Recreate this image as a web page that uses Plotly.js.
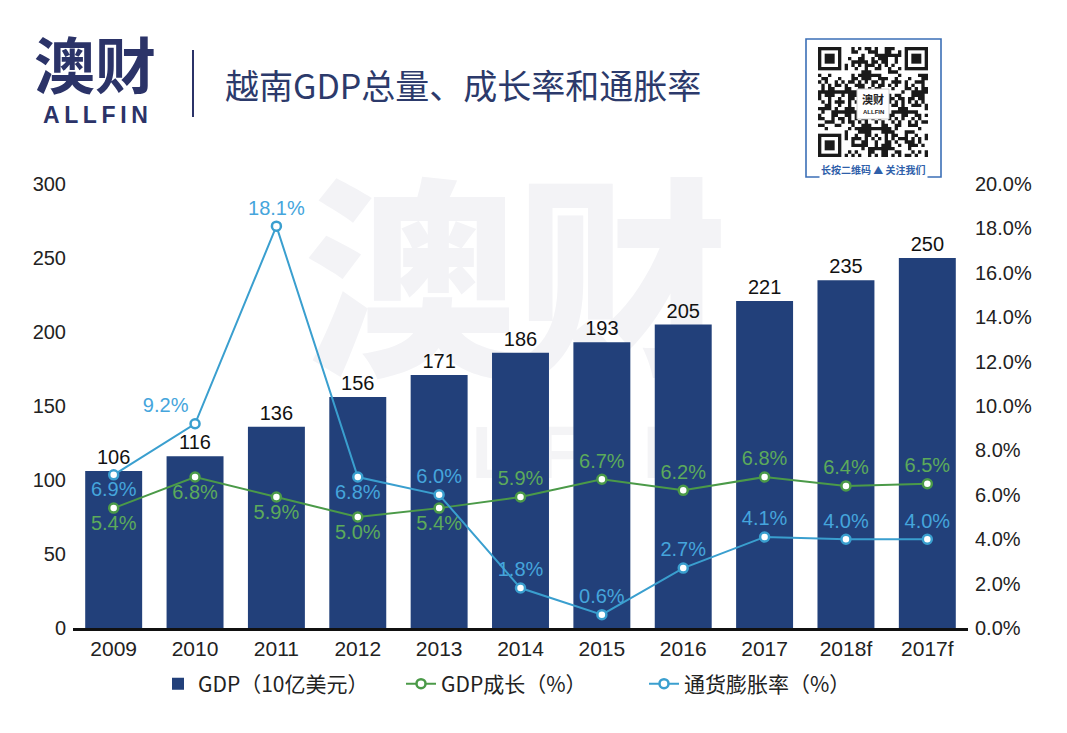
<!DOCTYPE html>
<html>
<head>
<meta charset="utf-8">
<script src="https://cdn.plot.ly/plotly-3.0.1.min.js"></script>
<style>
  html, body { margin: 0; padding: 0; background: #ffffff; }
  #chart { width: 1067px; height: 733px; }
</style>
</head>
<body>
<div id="chart"></div>
<script>
// ---------------- DATA ----------------
const categories = ['2009', '2010', '2011', '2012', '2013', '2014', '2015', '2016', '2017', '2018f', '2017f'];
const gdpValues = [106, 116, 136, 156, 171, 186, 193, 205, 221, 235, 250];          // GDP, 10亿美元
const gdpGrowth = [5.4, 6.8, 5.9, 5.0, 5.4, 5.9, 6.7, 6.2, 6.8, 6.4, 6.5];          // %
const inflation = [6.9, 9.2, 18.1, 6.8, 6.0, 1.8, 0.6, 2.7, 4.1, 4.0, 4.0];         // %
const leftTicks = [0, 50, 100, 150, 200, 250, 300];
const rightTicks = [0, 2, 4, 6, 8, 10, 12, 14, 16, 18, 20];
const rightTickText = ['0.0%', '2.0%', '4.0%', '6.0%', '8.0%', '10.0%', '12.0%', '14.0%', '16.0%', '18.0%', '20.0%'];
const seriesNames = ['GDP（10亿美元）', 'GDP成长（%）', '通货膨胀率（%）'];
const titleText = '越南GDP总量、成长率和通胀率';

// ---------------- LAYOUT HELPERS ----------------
const W = 1067, H = 733, L = 73, R = 99, T = 184, B = 105;
const PW = W - L - R, PH = H - T - B;
const px = x => (x - L) / PW;
const py = y => (H - B - y) / PH;

const NAVY = '#22407a';
const LOGO = '#2b3368';
const GREEN_LINE = '#4b9a48';
const GREEN_TEXT = '#5caa5a';
const BLUE_LINE = '#3a9fcf';
const BLUE_TEXT = '#45a5dc';
const NUMFONT = 'Liberation Sans, Arial, Noto Sans CJK SC, sans-serif';
const CJKFONT = 'Noto Sans CJK SC, sans-serif';

const growthPos = ['bottom center', 'bottom center', 'bottom center', 'bottom center', 'bottom center',
                   'top center', 'top center', 'top center', 'top center', 'top center', 'top center'];
const inflPos = ['bottom center', 'top left', 'top center', 'bottom center', 'top center',
                 'top center', 'top center', 'top center', 'top center', 'top center', 'top center'];

const traces = [
  {
    type: 'bar', name: seriesNames[0], x: categories, y: gdpValues,
    marker: { color: NAVY },
    texttemplate: '%{y}', textposition: 'outside',
    textfont: { family: NUMFONT, size: 20, color: '#111' },
    cliponaxis: false, hoverinfo: 'x+y'
  },
  {
    type: 'scatter', mode: 'lines+markers+text', name: seriesNames[1], x: categories, y: gdpGrowth,
    yaxis: 'y2',
    line: { color: GREEN_LINE, width: 2 },
    marker: { symbol: 'circle', size: 9, color: '#ffffff', line: { color: GREEN_LINE, width: 2.5 } },
    texttemplate: '%{y:.1f}%', textposition: growthPos,
    textfont: { family: NUMFONT, size: 20, color: GREEN_TEXT },
    cliponaxis: false
  },
  {
    type: 'scatter', mode: 'lines+markers+text', name: seriesNames[2], x: categories, y: inflation,
    yaxis: 'y2',
    line: { color: BLUE_LINE, width: 2 },
    marker: { symbol: 'circle', size: 9, color: '#ffffff', line: { color: BLUE_LINE, width: 2.5 } },
    texttemplate: '%{y:.1f}%', textposition: inflPos,
    textfont: { family: NUMFONT, size: 20, color: BLUE_TEXT },
    cliponaxis: false
  }
];

// ---------------- DECORATION (header, QR badge, watermark) ----------------
const shapes = [];
const annotations = [];

// watermark behind the bars
shapes.push({
  type: 'rect', xref: 'paper', yref: 'paper', layer: 'below',
  x0: px(300), x1: px(732), y0: py(415), y1: py(185),
  line: { width: 0 }, fillcolor: 'rgba(0,0,0,0)',
  label: { text: '澳财', textposition: 'middle center',
           font: { family: CJKFONT, size: 212, color: '#f3f3f6', weight: 900 } }
});
shapes.push({
  type: 'rect', xref: 'paper', yref: 'paper', layer: 'below',
  x0: px(300), x1: px(732), y0: py(485), y1: py(405),
  line: { width: 0 }, fillcolor: 'rgba(0,0,0,0)',
  label: { text: 'A L L F I N', textposition: 'middle center',
           font: { family: NUMFONT, size: 74, color: '#f4f4f6', weight: 700 } }
});

// header divider
shapes.push({ type: 'line', xref: 'paper', yref: 'paper',
  x0: px(193), x1: px(193), y0: py(50), y1: py(117), line: { color: LOGO, width: 2 } });

// logo
annotations.push({ xref: 'paper', yref: 'paper', x: px(95), y: py(68), xanchor: 'center', yanchor: 'middle',
  text: '<b>澳财</b>', showarrow: false, font: { family: 'Liberation Sans, Noto Sans CJK SC, sans-serif', size: 61, color: LOGO } });
annotations.push({ xref: 'paper', yref: 'paper', x: px(95), y: py(115.5), xanchor: 'center', yanchor: 'middle',
  text: '<b>A\u2009L\u2009L\u2009F\u2009I\u2009N</b>', showarrow: false, font: { family: NUMFONT, size: 23, color: LOGO } });

// title
annotations.push({ xref: 'paper', yref: 'paper', x: px(223), y: py(84), xanchor: 'left', yanchor: 'middle',
  text: titleText, showarrow: false, font: { family: CJKFONT, size: 34, color: '#2c3a6b' } });

// QR badge frame
shapes.push({ type: 'rect', xref: 'paper', yref: 'paper',
  x0: px(806), x1: px(941), y0: py(177), y1: py(39),
  line: { color: '#3b6fb6', width: 1.6 }, fillcolor: 'rgba(0,0,0,0)' });
// QR-like module texture (decorative only)
(function () {
  const N = 33, x0 = 818, y0 = 47, s = 110 / N;
  let d = '';
  const inFinder = (i, j) => (i < 8 && j < 8) || (i < 8 && j >= N - 8) || (i >= N - 8 && j < 8);
  for (let i = 0; i < N; i++) {
    for (let j = 0; j < N; j++) {
      if (inFinder(i, j)) continue;
      const on = ((i * 7 + j * 13 + (i * j) % 11) % 5) < 2 || ((i + 2 * j) % 7 === 0);
      if (!on) continue;
      const a = px(x0 + j * s), b = px(x0 + (j + 1) * s);
      const c = py(y0 + i * s), e = py(y0 + (i + 1) * s);
      d += `M${a},${c}L${b},${c}L${b},${e}L${a},${e}Z`;
    }
  }
  shapes.push({ type: 'path', xref: 'paper', yref: 'paper', path: d, fillcolor: '#1a1a1a', line: { width: 0 } });
  const finders = [[0, 0], [0, N - 7], [N - 7, 0]];
  finders.forEach(([i, j]) => {
    const fx = x0 + j * s, fy = y0 + i * s;
    shapes.push({ type: 'rect', xref: 'paper', yref: 'paper', x0: px(fx), x1: px(fx + 7 * s), y0: py(fy + 7 * s), y1: py(fy), fillcolor: '#1a1a1a', line: { width: 0 } });
    shapes.push({ type: 'rect', xref: 'paper', yref: 'paper', x0: px(fx + s), x1: px(fx + 6 * s), y0: py(fy + 6 * s), y1: py(fy + s), fillcolor: '#ffffff', line: { width: 0 } });
    shapes.push({ type: 'rect', xref: 'paper', yref: 'paper', x0: px(fx + 2 * s), x1: px(fx + 5 * s), y0: py(fy + 5 * s), y1: py(fy + 2 * s), fillcolor: '#1a1a1a', line: { width: 0 } });
  });
  shapes.push({ type: 'rect', xref: 'paper', yref: 'paper', x0: px(857), x1: px(889), y0: py(119), y1: py(89), fillcolor: '#ffffff', line: { color: '#cccccc', width: 1 } });
})();
annotations.push({ xref: 'paper', yref: 'paper', x: px(873), y: py(99), xanchor: 'center', yanchor: 'middle',
  text: '<b>澳财</b>', showarrow: false, font: { family: CJKFONT, size: 11, color: '#222' } });
annotations.push({ xref: 'paper', yref: 'paper', x: px(873), y: py(112), xanchor: 'center', yanchor: 'middle',
  text: '<b>ALLFIN</b>', showarrow: false, font: { family: NUMFONT, size: 6, color: '#222' } });
annotations.push({ xref: 'paper', yref: 'paper', x: px(873), y: py(169), xanchor: 'center', yanchor: 'middle',
  text: '<b>长按二维码 ▲ 关注我们</b>', showarrow: false, bgcolor: '#ffffff', borderpad: 1,
  font: { family: CJKFONT, size: 10, color: '#2f5faa' } });

const layout = {
  width: W, height: H,
  margin: { l: L, r: R, t: T, b: B, pad: 0 },
  paper_bgcolor: '#ffffff', plot_bgcolor: 'rgba(0,0,0,0)',
  font: { family: NUMFONT, color: '#222' },
  bargap: 0.3,
  showlegend: true,
  legend: {
    orientation: 'h', x: px(158), xanchor: 'left', y: py(684), yanchor: 'middle',
    font: { family: CJKFONT, size: 21, color: '#222' },
    entrywidth: 198, entrywidthmode: 'pixels',
    bgcolor: 'rgba(0,0,0,0)', traceorder: 'normal'
  },
  xaxis: {
    type: 'category', range: [-0.5, categories.length - 0.5],
    showline: true, linecolor: '#111', linewidth: 2.5,
    showgrid: false, zeroline: false, ticks: '',
    tickfont: { family: NUMFONT, size: 21, color: '#222' },
    ticklabelstandoff: 0, fixedrange: true
  },
  yaxis: {
    range: [0, 300], tickvals: leftTicks,
    showline: false, showgrid: false, zeroline: false, ticks: '',
    tickfont: { family: NUMFONT, size: 20, color: '#222' },
    ticklabelstandoff: 6, fixedrange: true
  },
  yaxis2: {
    range: [0, 20], tickvals: rightTicks, ticktext: rightTickText, overlaying: 'y', side: 'right',
    showline: false, showgrid: false, zeroline: false, ticks: '',
    tickfont: { family: NUMFONT, size: 20, color: '#222' },
    ticklabelstandoff: 6, fixedrange: true
  },
  shapes: shapes,
  annotations: annotations
};

Plotly.newPlot('chart', traces, layout, { displayModeBar: false, staticPlot: true });
</script>
</body>
</html>
